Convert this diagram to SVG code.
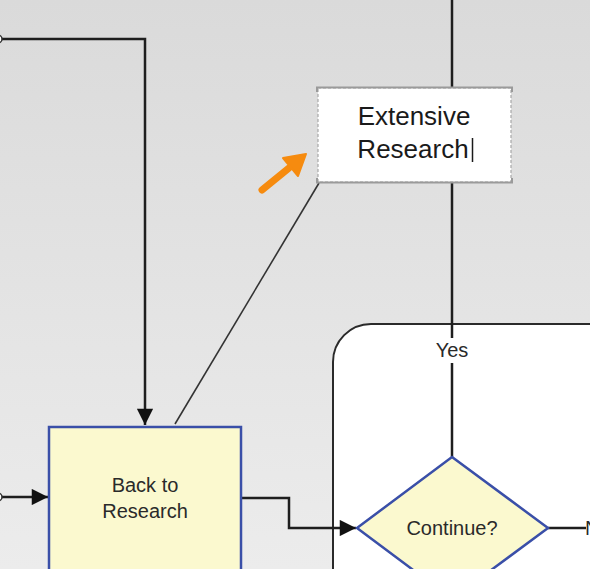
<svg xmlns="http://www.w3.org/2000/svg" width="590" height="569" viewBox="0 0 590 569">
<defs>
<linearGradient id="bg" x1="0" y1="0" x2="0" y2="1">
<stop offset="0" stop-color="#dadada"/>
<stop offset="1" stop-color="#ececec"/>
</linearGradient>
<marker id="arr" viewBox="0 0 10 10" refX="10" refY="5" markerWidth="7" markerHeight="6.5" markerUnits="strokeWidth" orient="auto">
<path d="M0,0 L10,5 L0,10 z" fill="#111"/>
</marker>
<style>
.con{fill:none;stroke:#1e1e1e;stroke-width:2.5}
.thin{fill:none;stroke:#333;stroke-width:1.6}
.proc{fill:#fbf9cf;stroke:#3a4fa8;stroke-width:2.5}
.lbl{font-family:"Liberation Sans",Arial,sans-serif;font-size:20px;fill:#2a2a2a;text-anchor:middle}
.ann{font-family:"Liberation Sans",Arial,sans-serif;font-size:26px;fill:#1a1a1a;text-anchor:middle}
</style>
</defs>
<rect x="0" y="0" width="590" height="569" fill="url(#bg)"/>

<g id="container">
<rect x="333" y="324" width="320" height="320" rx="38" ry="38" fill="#ffffff" stroke="#2a2a2a" stroke-width="2"/>
</g>

<g id="connectors">
<path class="con" d="M0,39 H145 V425" marker-end="url(#arr)"/>
<path class="con" d="M0,497 H48" marker-end="url(#arr)"/>
<path class="con" d="M241,498 H289 V528 H356" marker-end="url(#arr)"/>
<path class="con" d="M548,528 H586"/>
<path class="con" d="M452,0 V88"/>
<path class="con" d="M452,182 V338"/>
<path class="con" d="M452,363 V457"/>
<path class="thin" d="M319,183 L175,424"/>
<circle cx="-2" cy="39" r="4" fill="#fff" stroke="#333" stroke-width="1.5"/>
<circle cx="-2" cy="497" r="4" fill="#fff" stroke="#333" stroke-width="1.5"/>
</g>

<g id="back-to-research">
<rect class="proc" x="49" y="427" width="192" height="170"/>
<text class="lbl" x="145" y="492">Back to</text>
<text class="lbl" x="145" y="518">Research</text>
</g>

<g id="continue">
<polygon class="proc" points="452,457 548,528 452,599 357,528"/>
<text class="lbl" x="452" y="535">Continue?</text>
</g>

<g id="yes-label">
<text class="lbl" x="452" y="357">Yes</text>
</g>

<g id="no-label">
<text class="lbl" x="585" y="535" style="text-anchor:start">No</text>
</g>

<g id="annotation">
<rect x="318" y="88" width="193" height="94" fill="#ffffff" stroke="#a8a8a8" stroke-width="1.2" stroke-dasharray="3 2"/>
<path d="M317,92 V87.5 H512 V92" fill="none" stroke="#9a9a9a" stroke-width="2"/>
<path d="M317,178 V182.5 H512 V178" fill="none" stroke="#9a9a9a" stroke-width="2"/>
<text class="ann" x="414" y="125">Extensive</text>
<text class="ann" x="413" y="158">Research</text>
<line x1="472.5" y1="138" x2="472.5" y2="162" stroke="#1a1a1a" stroke-width="1.5"/>
</g>

<g id="pointer">
<line x1="262" y1="190" x2="289" y2="168" stroke="#f68b0f" stroke-width="7" stroke-linecap="round"/>
<polygon points="306,154 283,158 298,176" fill="#f68b0f" stroke="#f68b0f" stroke-width="2" stroke-linejoin="round"/>
</g>
</svg>
